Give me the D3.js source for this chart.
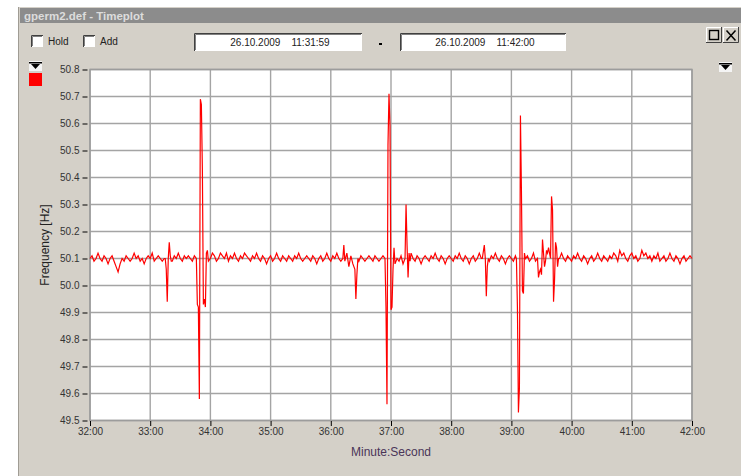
<!DOCTYPE html>
<html lang="en">
<head>
<meta charset="utf-8">
<script src="https://cdn.jsdelivr.net/npm/d3@7"></script>
<style>
  body { margin: 0; background: #fff; }
  svg { display: block; font-family: "Liberation Sans", Arial, sans-serif; }
</style>
</head>
<body>
<svg id="chart" width="741" height="476"></svg>
<script>
// x axis: seconds after 32:00, ticks every minute
var xTicks = [0, 60, 120, 180, 240, 300, 360, 420, 480, 540, 600];
var xTickLabels = ["32:00", "33:00", "34:00", "35:00", "36:00", "37:00", "38:00", "39:00", "40:00", "41:00", "42:00"];
var yTicks = [49.5, 49.6, 49.7, 49.8, 49.9, 50.0, 50.1, 50.2, 50.3, 50.4, 50.5, 50.6, 50.7, 50.8];

// baseline frequency read every 2 seconds (t = 0, 2, 4 ... 600)
var baseline = [
  50.10, 50.11, 50.09, 50.10, 50.12, 50.10, 50.09, 50.11, 50.10, 50.08, 50.10, 50.11, 50.09, 50.07, 50.05, 50.08, 50.10, 50.09, 50.11, 50.10,
  50.09, 50.10, 50.12, 50.10, 50.11, 50.09, 50.10, 50.08, 50.10, 50.11, 50.10, 50.12, 50.09, 50.10, 50.11, 50.10, 50.09, 50.10, 50.11, 50.10,
  50.10, 50.09, 50.11, 50.10, 50.12, 50.10, 50.09, 50.11, 50.10, 50.11, 50.10, 50.09, 50.11, 50.12, 50.10, 50.09, 50.11, 50.10, 50.12, 50.11,
  50.10, 50.12, 50.11, 50.09, 50.10, 50.12, 50.11, 50.10, 50.12, 50.09, 50.11, 50.10, 50.12, 50.10, 50.09, 50.11, 50.10, 50.12, 50.11, 50.10,
  50.09, 50.11, 50.10, 50.12, 50.10, 50.09, 50.11, 50.10, 50.08, 50.10, 50.11, 50.09, 50.10, 50.12, 50.10, 50.09, 50.11, 50.10, 50.09, 50.11,
  50.10, 50.09, 50.11, 50.10, 50.12, 50.10, 50.09, 50.10, 50.11, 50.10, 50.09, 50.11, 50.10, 50.08, 50.10, 50.11, 50.09, 50.10, 50.12, 50.10,
  50.09, 50.11, 50.10, 50.12, 50.10, 50.09, 50.11, 50.10, 50.08, 50.10, 50.11, 50.09, 50.10, 50.08, 50.10, 50.11, 50.10, 50.09, 50.10, 50.11,
  50.10, 50.09, 50.11, 50.10, 50.09, 50.10, 50.11, 50.10, 50.12, 50.10, 50.11, 50.09, 50.10, 50.11, 50.10, 50.12, 50.10, 50.09, 50.11, 50.10,
  50.12, 50.10, 50.09, 50.11, 50.10, 50.08, 50.10, 50.11, 50.10, 50.09, 50.11, 50.10, 50.12, 50.10, 50.09, 50.11, 50.10, 50.08, 50.10, 50.11,
  50.10, 50.09, 50.11, 50.10, 50.12, 50.10, 50.09, 50.11, 50.10, 50.08, 50.10, 50.11, 50.09, 50.10, 50.12, 50.10, 50.09, 50.11, 50.10, 50.09,
  50.11, 50.10, 50.12, 50.10, 50.09, 50.11, 50.10, 50.08, 50.10, 50.11, 50.10, 50.09, 50.11, 50.10, 50.12, 50.10, 50.09, 50.11, 50.10, 50.10,
  50.11, 50.10, 50.09, 50.11, 50.10, 50.12, 50.10, 50.09, 50.11, 50.10, 50.08, 50.10, 50.11, 50.09, 50.10, 50.12, 50.10, 50.09, 50.11, 50.10,
  50.09, 50.11, 50.10, 50.12, 50.10, 50.09, 50.11, 50.10, 50.08, 50.10, 50.11, 50.09, 50.10, 50.12, 50.10, 50.09, 50.11, 50.10, 50.09, 50.11,
  50.10, 50.12, 50.11, 50.09, 50.13, 50.11, 50.12, 50.10, 50.09, 50.11, 50.12, 50.10, 50.11, 50.09, 50.10, 50.13, 50.11, 50.12, 50.10, 50.11,
  50.09, 50.11, 50.10, 50.12, 50.09, 50.10, 50.11, 50.09, 50.10, 50.12, 50.10, 50.09, 50.11, 50.10, 50.08, 50.10, 50.11, 50.09, 50.10, 50.11,
  50.10
];

// disturbances, [second, Hz]
var event1 = [[75, 50.10], [76, 50.06], [77, 49.94], [78, 50.10], [79, 50.16], [80, 50.11], [81, 50.09]];
var event2 = [[106, 50.10], [107, 49.93], [108, 49.92], [109, 49.58], [110, 50.69], [111, 50.67], [112, 50.43], [113, 49.93],
              [114, 49.95], [115, 49.92], [116, 50.12], [117, 50.13], [118, 50.09]];
var event3 = [[252, 50.10], [253, 50.15], [254, 50.09], [256, 50.12], [258, 50.07], [260, 50.11], [262, 50.08],
              [264, 50.06], [265, 49.95], [266, 50.04], [267, 50.10], [268, 50.09]];
var event4 = [[294, 50.10], [295, 49.92], [296, 49.56], [297, 50.52], [298, 50.71], [299, 50.59], [300, 49.91],
              [301, 49.92], [302, 50.06], [303, 50.14], [304, 50.08], [306, 50.10], [308, 50.09], [310, 50.11],
              [312, 50.08], [314, 50.10], [315, 50.30], [316, 50.15], [317, 50.03], [318, 50.12], [319, 50.09]];
var event5 = [[391, 50.10], [393, 50.15], [394, 50.10], [395, 49.96], [396, 50.07], [397, 50.10]];
var event6 = [[425, 50.10], [426, 49.92], [427, 49.53], [428, 49.62], [429, 50.63], [430, 50.35], [431, 49.98],
              [432, 49.97], [433, 50.12], [434, 50.10], [436, 50.11], [438, 50.09], [440, 50.10], [442, 50.12],
              [444, 50.09], [446, 50.10], [447, 50.03], [448, 50.05], [449, 50.06], [450, 50.04], [451, 50.17],
              [452, 50.12], [453, 50.07], [454, 50.09], [455, 50.13], [456, 50.12], [457, 50.14], [458, 50.12],
              [459, 50.10], [460, 50.33], [461, 50.28], [462, 49.94], [463, 50.02], [464, 50.16], [465, 50.14],
              [466, 50.07], [467, 50.10]];
var events = [event1, event2, event3, event4, event5, event6];

// merge baseline with the event windows
var series = [];
baseline.forEach(function(v, i) {
  var t = i * 2;
  var inside = events.some(function(e) { return t >= e[0][0] && t <= e[e.length - 1][0]; });
  if (!inside) series.push([t, v]);
});
events.forEach(function(e) { e.forEach(function(p) { series.push(p); }); });
series.sort(function(a, b) { return a[0] - b[0]; });

var svg = d3.select("#chart");
var bg = "#d4d0c8";

// window frame
svg.append("rect").attr("x", 18).attr("y", 7).attr("width", 723).attr("height", 469).attr("fill", bg);
svg.append("line").attr("x1", 18.5).attr("x2", 18.5).attr("y1", 7).attr("y2", 476).attr("stroke", "#a09c94");
svg.append("rect").attr("x", 20).attr("y", 8).attr("width", 721).attr("height", 15).attr("fill", "#8c8c8c");
svg.append("text").attr("x", 24).attr("y", 19.5).text("gperm2.def - Timeplot")
  .attr("fill", "#dcdcdc").attr("font-size", 11.5).attr("font-weight", "bold");

// checkboxes
function sunken(x, y, w, h) {
  svg.append("rect").attr("x", x).attr("y", y).attr("width", w).attr("height", h).attr("fill", "#fff");
  svg.append("path").attr("d", "M" + (x + 0.5) + "," + (y + h) + "V" + (y + 0.5) + "H" + (x + w))
    .attr("fill", "none").attr("stroke", "#404040");
  svg.append("path").attr("d", "M" + (x + 1.5) + "," + (y + h - 1) + "V" + (y + 1.5) + "H" + (x + w - 1))
    .attr("fill", "none").attr("stroke", "#808080");
}
sunken(31, 35, 12, 12);
sunken(83, 35, 12, 12);
svg.append("text").attr("x", 48).attr("y", 44.5).text("Hold").attr("font-size", 10).attr("fill", "#222");
svg.append("text").attr("x", 100).attr("y", 44.5).text("Add").attr("font-size", 10).attr("fill", "#222");

// date fields
var dateFrom = "26.10.2009    11:31:59";
var dateTo = "26.10.2009    11:42:00";
sunken(194, 33, 168, 18);
sunken(400, 33, 166, 18);
svg.append("text").attr("x", 280).attr("y", 46).text(dateFrom).attr("font-size", 10)
  .attr("text-anchor", "middle").attr("fill", "#222").style("white-space", "pre");
svg.append("text").attr("x", 485).attr("y", 46).text(dateTo).attr("font-size", 10)
  .attr("text-anchor", "middle").attr("fill", "#222").style("white-space", "pre");
svg.append("rect").attr("x", 379).attr("y", 43).attr("width", 3).attr("height", 2).attr("fill", "#000");

// window buttons
function button(x, y, w, h) {
  svg.append("rect").attr("x", x).attr("y", y).attr("width", w).attr("height", h).attr("fill", bg);
  svg.append("path").attr("d", "M" + (x + 0.5) + "," + (y + h) + "V" + (y + 0.5) + "H" + (x + w))
    .attr("fill", "none").attr("stroke", "#fff");
  svg.append("path").attr("d", "M" + x + "," + (y + h - 0.5) + "H" + (x + w - 0.5) + "V" + y)
    .attr("fill", "none").attr("stroke", "#404040");
}
button(706, 27, 16, 16);
button(723, 27, 16, 16);
svg.append("rect").attr("x", 709.5).attr("y", 30.5).attr("width", 9).attr("height", 9)
  .attr("fill", "none").attr("stroke", "#000").attr("stroke-width", 1.4);
svg.append("path").attr("d", "M726.5,30.5L735.5,40.5M735.5,30.5L726.5,40.5").attr("stroke", "#000").attr("stroke-width", 1.5);

// dropdown arrows and series colour marker
function dropArrow(x, y) {
  svg.append("rect").attr("x", x).attr("y", y).attr("width", 13).attr("height", 10).attr("fill", "#f4f4f4");
  svg.append("path").attr("d", "M" + (x + 2) + "," + (y + 3) + "H" + (x + 11) + "L" + (x + 6.5) + "," + (y + 8) + "Z")
    .attr("fill", "#000");
  svg.append("rect").attr("x", x).attr("y", y + 1).attr("width", 13).attr("height", 1.5).attr("fill", "#000");
}
dropArrow(29, 61);
dropArrow(719, 62);
svg.append("rect").attr("x", 29).attr("y", 73).attr("width", 13).attr("height", 13).attr("fill", "#ff0000");

// plot
var plotL = 90, plotR = 692, plotT = 69.5, plotB = 420.5;
var x = d3.scaleLinear().domain([0, 600]).range([plotL, plotR]);
var y = d3.scaleLinear().domain([49.5, 50.8]).range([plotB, plotT]);

svg.append("rect").attr("x", plotL).attr("y", plotT).attr("width", plotR - plotL).attr("height", plotB - plotT).attr("fill", "#fff");

var grid = svg.append("g").attr("stroke", "#a4a4a4").attr("stroke-width", 1.4);
grid.selectAll(".gy").data(yTicks).enter().append("line")
  .attr("x1", plotL).attr("x2", plotR).attr("y1", function(d) { return y(d); }).attr("y2", function(d) { return y(d); });
grid.selectAll(".gx").data(xTicks).enter().append("line")
  .attr("y1", plotT).attr("y2", plotB).attr("x1", function(d) { return x(d); }).attr("x2", function(d) { return x(d); });

svg.append("rect").attr("x", plotL).attr("y", plotT).attr("width", plotR - plotL).attr("height", plotB - plotT)
  .attr("fill", "none").attr("stroke", "#9c9c9c").attr("stroke-width", 1.5);

var line = d3.line().x(function(d) { return x(d[0]); }).y(function(d) { return y(d[1]); });
svg.append("path").datum(series).attr("d", line)
  .attr("fill", "none").attr("stroke", "#ff0000").attr("stroke-width", 1.2).attr("stroke-linejoin", "miter");

// axes
var yAxis = d3.axisLeft(y).tickValues(yTicks).tickSize(5).tickPadding(3).tickFormat(d3.format(".1f"));
var gy = svg.append("g").attr("transform", "translate(87.5,0)").call(yAxis);
var xAxis = d3.axisBottom(x).tickValues(xTicks).tickSize(5).tickPadding(2)
  .tickFormat(function(d, i) { return xTickLabels[i]; });
var gx = svg.append("g").attr("transform", "translate(0," + (plotB + 0.5) + ")").call(xAxis);
[gy, gx].forEach(function(g) {
  g.select(".domain").remove();
  g.selectAll(".tick line").attr("stroke", "#000");
  g.selectAll(".tick text").attr("fill", "#333").attr("font-size", 10)
    .attr("font-family", "'Liberation Sans', Arial, sans-serif");
});

svg.append("text").attr("transform", "translate(49,245) rotate(-90)").attr("text-anchor", "middle")
  .text("Frequency [Hz]").attr("font-size", 12).attr("fill", "#222");
svg.append("text").attr("x", 391).attr("y", 456).attr("text-anchor", "middle")
  .text("Minute:Second").attr("font-size", 12).attr("fill", "#4a3558");
</script>
</body>
</html>
